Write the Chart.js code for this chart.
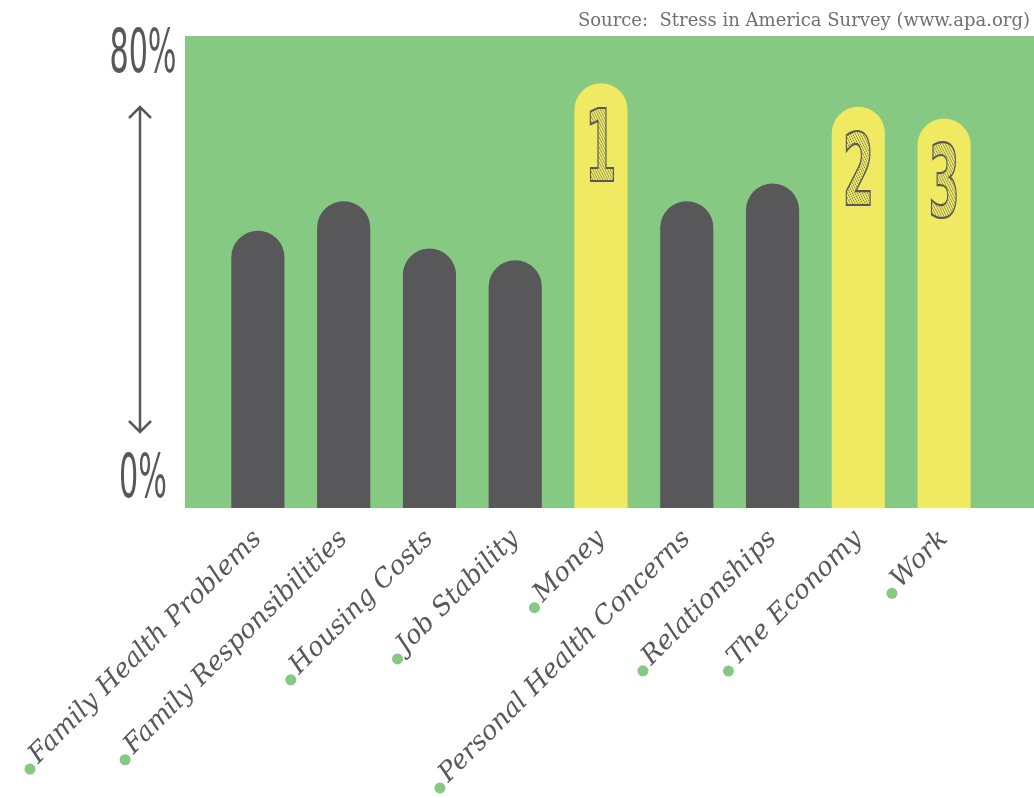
<!DOCTYPE html>
<html>
<head>
<meta charset="utf-8">
<script src="https://cdn.jsdelivr.net/npm/chart.js@4.4.0/dist/chart.umd.min.js"></script>
<style>
  html, body { margin: 0; padding: 0; background: #fff; }
  #wrap { width: 1034px; height: 798px; }
</style>
</head>
<body>
<div id="wrap"><canvas id="stress" width="1034" height="798"></canvas></div>
<script>
const categories = ["Family Health Problems", "Family Responsibilities", "Housing Costs", "Job Stability", "Money", "Personal Health Concerns", "Relationships", "The Economy", "Work"]
const percentStressed = [47, 52, 44, 42, 72, 52, 55, 68, 66]
const ranks = [null, null, null, null, 1, null, null, 2, 3]
const yTicks = [0, 80]
const sourceNote = "Source:  Stress in America Survey (www.apa.org)"

const GREEN = "#86c982"
const DARK = "#58585a"
const YELLOW = "#f0ea62"
const TEXT = "#58585a"
const LABEL_FONT = { family: "'DejaVu Serif'", style: "italic", size: 26 }
const LABEL_PAD = 8

// green panel is a bit wider than the category axis
const backdrop = {
    id: "backdrop",
    beforeDatasetsDraw(chart) {
        const a = chart.chartArea
        const ctx = chart.ctx
        ctx.save()
        ctx.fillStyle = GREEN
        ctx.fillRect(a.left - 30, a.top, (a.right + 47) - (a.left - 30), a.bottom - a.top)
        ctx.restore()
    }
}

function hatch(ctx) {
    let c = document.createElement("canvas")
    c.width = 5
    c.height = 5
    let p = c.getContext("2d")
    p.fillStyle = YELLOW
    p.fillRect(0, 0, 5, 5)
    p.strokeStyle = DARK
    p.lineWidth = 1
    p.beginPath()
    p.moveTo(0, 0); p.lineTo(5, 5)
    p.moveTo(-1, 4); p.lineTo(1, 6)
    p.moveTo(4, -1); p.lineTo(6, 1)
    p.stroke()
    return ctx.createPattern(c, "repeat")
}

// hatched rank numbers inside the top three bars
const rankNumbers = {
    id: "rankNumbers",
    afterDatasetsDraw(chart) {
        const ctx = chart.ctx
        const bars = chart.getDatasetMeta(0).data
        const pattern = hatch(ctx)
        ranks.forEach((r, i) => {
            if (!r) return
            const bar = bars[i]
            ctx.save()
            ctx.translate(bar.x, bar.y + 98)
            ctx.scale(0.5, 1)
            ctx.font = "bold 100px 'DejaVu Sans Condensed'"
            ctx.textAlign = "center"
            ctx.textBaseline = "alphabetic"
            ctx.fillStyle = pattern
            ctx.fillText(String(r), 0, 0)
            ctx.strokeStyle = DARK
            ctx.lineWidth = 2.2
            ctx.strokeText(String(r), 0, 0)
            ctx.restore()
        })
    }
}

const decorations = {
    id: "decorations",
    afterDraw(chart) {
        const ctx = chart.ctx
        const y = chart.scales.y
        const x = chart.scales.x
        ctx.save()

        // y labels, tall condensed
        const shift = { 0: -11, 80: 36 }
        ctx.fillStyle = TEXT
        ctx.textAlign = "center"
        ctx.textBaseline = "alphabetic"
        ctx.font = "60px 'Liberation Sans Narrow', 'DejaVu Sans Condensed'"
        yTicks.forEach(v => {
            ctx.save()
            ctx.translate(143, y.getPixelForValue(v) + shift[v])
            ctx.scale(0.56, 1)
            ctx.fillText(v + "%", 0, 0)
            ctx.restore()
        })

        // double arrow between the two labels
        const top = y.getPixelForValue(80) + 71
        const bot = y.getPixelForValue(0) - 76
        ctx.strokeStyle = TEXT
        ctx.lineWidth = 2.5
        ctx.beginPath()
        ctx.moveTo(140, top); ctx.lineTo(140, bot)
        ctx.moveTo(129, top + 11); ctx.lineTo(140, top); ctx.lineTo(151, top + 11)
        ctx.moveTo(129, bot - 11); ctx.lineTo(140, bot); ctx.lineTo(151, bot - 11)
        ctx.stroke()

        // green bullet before each category label
        ctx.font = LABEL_FONT.style + " " + LABEL_FONT.size + "px " + LABEL_FONT.family
        const lh = LABEL_FONT.size * 1.2
        const s = Math.SQRT1_2
        ctx.fillStyle = GREEN
        categories.forEach((c, i) => {
            const w = ctx.measureText(c).width
            // middle line of the rotated label, at its start
            const sx = x.getPixelForTick(i) - w * s
            const sy = x.top + LABEL_PAD + lh / 2 * s + w * s
            const back = 15, down = 10
            ctx.beginPath()
            ctx.arc(sx - back * s + down * s, sy + back * s + down * s, 5.5, 0, Math.PI * 2)
            ctx.fill()
        })

        // source note
        ctx.fillStyle = "#707070"
        ctx.textAlign = "right"
        ctx.font = "18px 'DejaVu Serif'"
        ctx.fillText(sourceNote, 1030, 26)
        ctx.restore()
    }
}

new Chart(document.getElementById("stress").getContext("2d"), {
    "type": "bar",
    "data": {
        "labels": categories,
        "datasets": [{
            "data": percentStressed,
            "backgroundColor": ranks.map(r => r ? YELLOW : DARK),
            "borderRadius": 100,
            "borderSkipped": "start",
            "barPercentage": 0.62,
            "categoryPercentage": 1
        }]
    },
    "options": {
        "responsive": false,
        "animation": false,
        "layout": { "padding": { "left": 215, "right": 47, "top": 36, "bottom": 0 } },
        "plugins": { "legend": { "display": false }, "tooltip": { "enabled": false } },
        "scales": {
            "x": {
                "grid": { "display": false },
                "border": { "display": false },
                "ticks": {
                    "minRotation": 45,
                    "maxRotation": 45,
                    "autoSkip": false,
                    "color": TEXT,
                    "font": LABEL_FONT,
                    "padding": LABEL_PAD
                },
                "afterFit": s => { s.height = 290; s.paddingLeft = 0; s.paddingRight = 0 }
            },
            "y": { "display": false, "min": 0, "max": 80 }
        }
    },
    "plugins": [backdrop, rankNumbers, decorations]
})
</script>
</body>
</html>
